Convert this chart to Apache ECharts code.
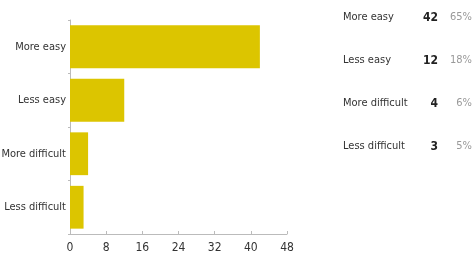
<!DOCTYPE html>
<html>
<head>
<meta charset="utf-8">
<script src="https://cdn.jsdelivr.net/npm/echarts@6/dist/echarts.min.js"></script>
<style>
  html, body { margin: 0; padding: 0; background: #fff; }
  #chart { width: 474px; height: 264px; }
</style>
</head>
<body>
<div id="chart"></div>
<script>
var categories = ['More easy', 'Less easy', 'More difficult', 'Less difficult'];
var counts = [42, 12, 4, 3];
var percents = ['65%', '18%', '6%', '5%'];
var xTicks = [0, 8, 16, 24, 32, 40, 48];

var font = '"DejaVu Sans Condensed", "Liberation Sans Narrow", sans-serif';
var barColor = '#dcc500';

// right-hand summary table
var table = [];
categories.forEach(function (name, i) {
  var top = 12 + i * 43;
  table.push({ type: 'text', left: 343, top: top,
    style: { text: name, font: '11px ' + font, fill: '#333' } });
  table.push({ type: 'text', right: 474 - 438, top: top,
    style: { text: String(counts[i]), font: 'bold 12px ' + font, fill: '#222', textAlign: 'right' } });
  table.push({ type: 'text', right: 2, top: top,
    style: { text: percents[i], font: '11px ' + font, fill: '#999', textAlign: 'right' } });
});

var chart = echarts.init(document.getElementById('chart'));
chart.setOption({
  animation: false,
  grid: { left: 70, right: 187, top: 20, bottom: 30, containLabel: false, outerBoundsMode: 'none' },
  xAxis: {
    type: 'value',
    min: xTicks[0],
    max: xTicks[xTicks.length - 1],
    interval: 8,
    splitLine: { show: false },
    axisLine: { show: true, lineStyle: { color: '#bbb' } },
    axisTick: { show: true, inside: true, length: 3, lineStyle: { color: '#bbb' } },
    axisLabel: { color: '#333', fontFamily: font, fontSize: 12, margin: 8 }
  },
  yAxis: {
    type: 'category',
    data: categories,
    inverse: true,
    axisLine: { show: true, lineStyle: { color: '#bbb' } },
    axisTick: { show: true, length: 2, lineStyle: { color: '#bbb' } },
    axisLabel: { color: '#333', fontFamily: font, fontSize: 11, margin: 4 }
  },
  series: [{
    type: 'bar',
    data: counts,
    barCategoryGap: '20%',
    itemStyle: { color: barColor }
  }],
  graphic: table
});
</script>
</body>
</html>
